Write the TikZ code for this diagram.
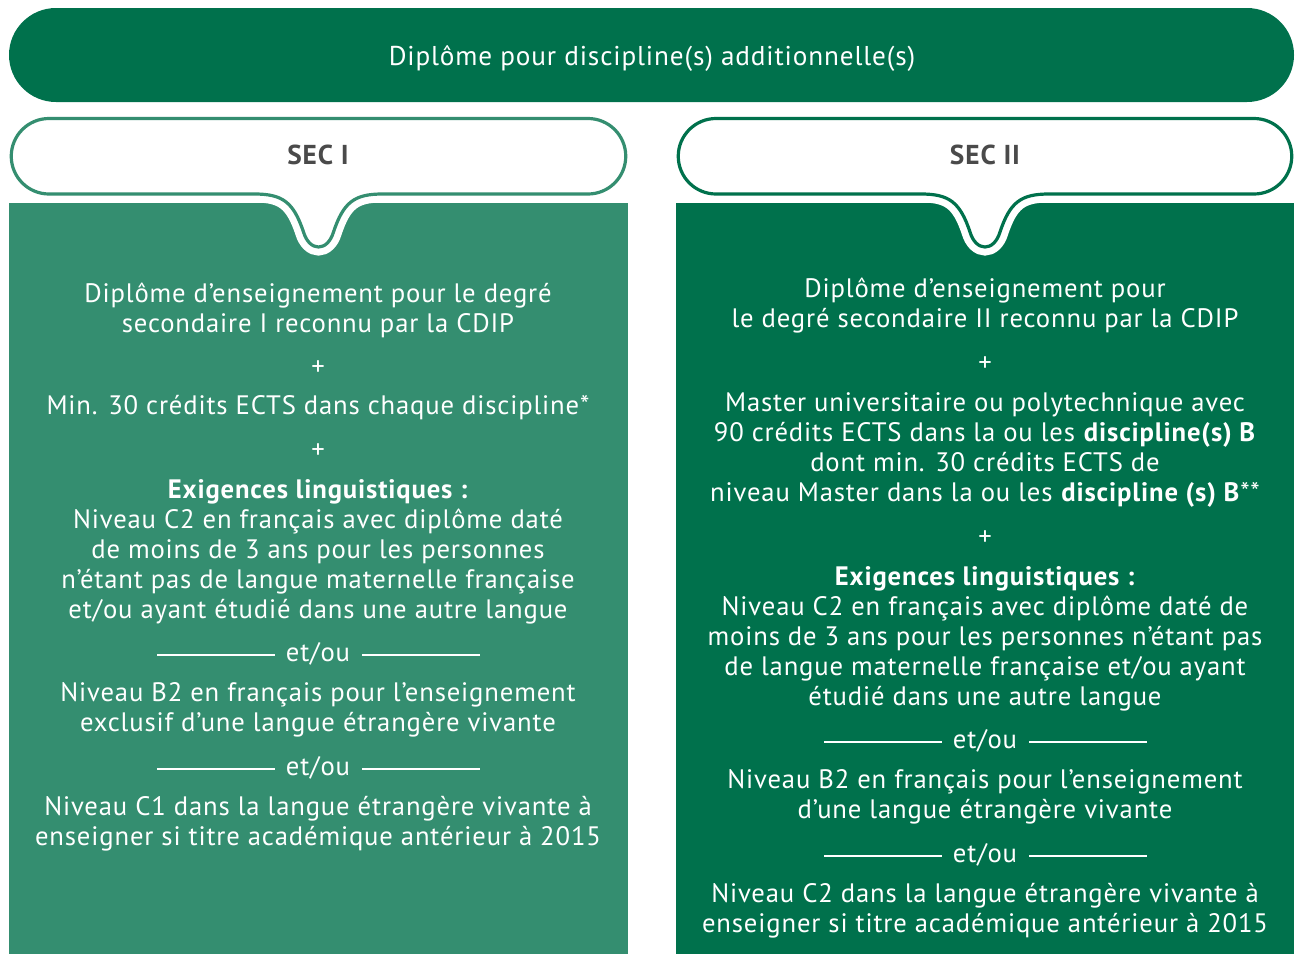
\documentclass[tikz,border=0pt]{standalone}
\usepackage{fontspec}
\setmainfont{PT Sans}[LetterSpace=3.2]
\usetikzlibrary{calc}
\definecolor{dkgreen}{RGB}{0,113,76}
\definecolor{mdgreen}{RGB}{52,142,112}
\definecolor{secgray}{RGB}{74,74,74}
\tikzset{
  body/.style={text=white, align=center, inner sep=0pt, font=\fontsize{20}{22.5}\selectfont},
  sechead/.style={text=secgray, inner sep=0pt, font=\fontsize{20.5}{22}\selectfont\bfseries},
  sepline/.style={draw=white, line width=0.9pt},
  halo/.style={draw=white, line width=12.75pt},
}
\begin{document}
\begin{tikzpicture}[x=0.75pt,y=0.75pt]
\useasboundingbox (0,0) rectangle (1295,-954);
% banner
\fill[dkgreen, rounded corners=47*0.75pt] (9,-8) rectangle (1294,-102);
\node[text=white, inner sep=0pt, font=\fontsize{20.4}{22}\selectfont] (title) at (652,-58.5) {Diplôme pour discipline(s) additionnelle(s)};
% panels
\fill[mdgreen] (9,-203) rectangle (628,-954);
\fill[dkgreen] (676,-203) rectangle (1294,-954);
% bubble shapes
\def\bubble#1#2{%
  (#1+38.5,-118.5) -- (#2-38.5,-118.5) arc[start angle=90,end angle=-90,radius=37.75]
  -- ({(#1+#2)/2+64},-194) .. controls ({(#1+#2)/2+36},-194) and ({(#1+#2)/2+25},-202) .. ({(#1+#2)/2+15},-232)
  .. controls ({(#1+#2)/2+9},-252) and ({(#1+#2)/2-9},-252) .. ({(#1+#2)/2-15},-232)
  .. controls ({(#1+#2)/2-25},-202) and ({(#1+#2)/2-36},-194) .. ({(#1+#2)/2-64},-194)
  -- (#1+38.5,-194) arc[start angle=270,end angle=90,radius=37.75] -- cycle}
\draw[halo] \bubble{10.5}{626.5};
\draw[halo] \bubble{677.5}{1292.5};
\filldraw[fill=white, draw=mdgreen, line width=2.4pt] \bubble{10.5}{626.5};
\filldraw[fill=white, draw=dkgreen, line width=2.4pt] \bubble{677.5}{1292.5};
\node[sechead] (sec1) at (318,-155) {SEC I};
\node[sechead] (sec2) at (985,-155) {SEC II};
% left column
\node[body] (l1) at (318,-310) {Diplôme d’enseignement pour le degré\\secondaire I reconnu par la CDIP};
\node[body] (lp1) at (318,-368) {+};
\node[body] (l2) at (318,-408) {Min. 30 crédits ECTS dans chaque discipline*};
\node[body] (lp2) at (318,-451) {+};
\node[body] (l3) at (318,-552) {\textbf{Exigences linguistiques :}\\Niveau C2 en français avec diplôme daté\\de moins de 3 ans pour les personnes\\n’étant pas de langue maternelle française\\et/ou ayant étudié dans une autre langue};
\node[body] (le1) at (318,-653.5) {et/ou};
\node[body] (l4) at (318,-710) {Niveau B2 en français pour l’enseignement\\exclusif d’une langue étrangère vivante};
\node[body] (le2) at (318,-767.5) {et/ou};
\node[body] (l5) at (318,-824) {Niveau C1 dans la langue étrangère vivante à\\enseigner si titre académique antérieur à 2015};
% right column
\node[body] (r1) at (985,-306) {Diplôme d’enseignement pour\\le degré secondaire II reconnu par la CDIP};
\node[body] (rp1) at (985,-364) {+};
\node[body] (r2) at (985,-450) {Master universitaire ou polytechnique avec\\90 crédits ECTS dans la ou les \textbf{discipline(s) B}\\dont min. 30 crédits ECTS de\\niveau Master dans la ou les \textbf{discipline (s) B}**};
\node[body] (rp2) at (985,-538) {+};
\node[body] (r3) at (985,-639) {\textbf{Exigences linguistiques :}\\Niveau C2 en français avec diplôme daté de\\moins de 3 ans pour les personnes n’étant pas\\de langue maternelle française et/ou ayant\\étudié dans une autre langue};
\node[body] (re1) at (985,-740.5) {et/ou};
\node[body] (r4) at (985,-797) {Niveau B2 en français pour l’enseignement\\d’une langue étrangère vivante};
\node[body] (re2) at (985,-854.5) {et/ou};
\node[body] (r5) at (985,-911) {Niveau C2 dans la langue étrangère vivante à\\enseigner si titre académique antérieur à 2015};
% separator lines
\foreach \n in {le1,le2,re1,re2}{
  \coordinate (\n-a) at ($(\n.center)+(-161,-1.5)$);
  \coordinate (\n-b) at ($(\n.center)+(-43,-1.5)$);
  \coordinate (\n-c) at ($(\n.center)+(44,-1.5)$);
  \coordinate (\n-d) at ($(\n.center)+(162,-1.5)$);
  \draw[sepline] (\n-a) -- (\n-b);
  \draw[sepline] (\n-c) -- (\n-d);
}
\end{tikzpicture}
\end{document}
